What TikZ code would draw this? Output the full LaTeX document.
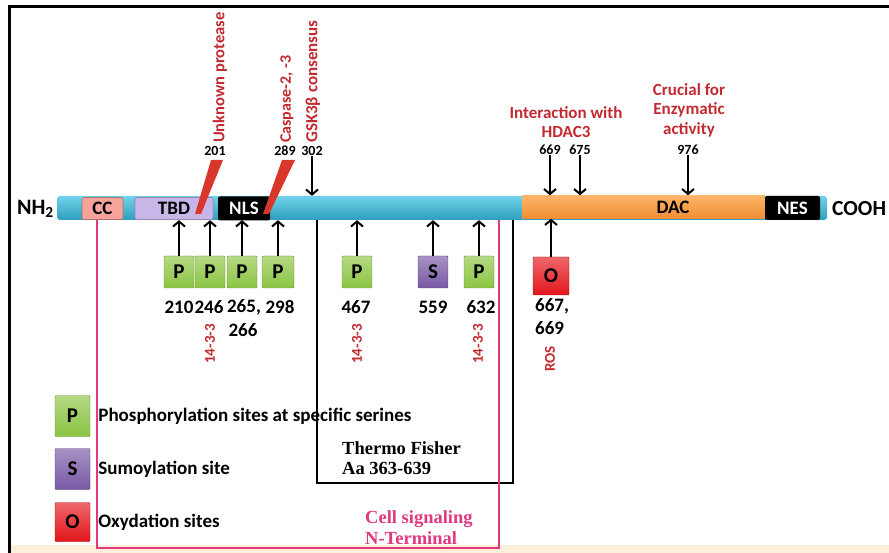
\documentclass[tikz,border=0pt]{standalone}
\usepackage{fontspec}
\setmainfont{Carlito}
\newfontfamily\thermofont{Liberation Serif}
\usetikzlibrary{positioning,arrows.meta}

\definecolor{barlight}{HTML}{72D2EA}
\definecolor{bardark}{HTML}{2C9FBE}
\definecolor{ccpink}{HTML}{F6A39C}
\definecolor{tbdlilac}{HTML}{C9B6E8}
\definecolor{daclight}{HTML}{FBB565}
\definecolor{dacdark}{HTML}{F28E35}
\definecolor{pgreen}{HTML}{8CC443}
\definecolor{spurple}{HTML}{7858A4}
\definecolor{ored}{HTML}{E3161B}
\definecolor{cutred}{HTML}{D8382C}
\definecolor{notered}{HTML}{C22A30}
\definecolor{cellpink}{HTML}{E0397F}
\definecolor{bandbeige}{HTML}{FBEFD9}

\tikzset{
  every node/.style={inner sep=0pt},
  domainbox/.style={rounded corners=2pt, minimum height=22pt, line width=0.6pt,
    font=\bfseries\fontsize{19pt}{19pt}\selectfont},
  darkdomain/.style={domainbox, fill=black, text=white, minimum height=24pt},
  sitebox/.style={draw=#1!75!black, top color=#1!65!white, bottom color=#1,
    minimum width=30pt, minimum height=32pt, rounded corners=1pt,
    font=\bfseries\fontsize{21pt}{21pt}\selectfont},
  sitenum/.style={font=\bfseries\fontsize{19pt}{22pt}\selectfont},
  toplbl/.style={font=\bfseries\fontsize{14pt}{14pt}\selectfont},
  cutlbl/.style={text=notered, rotate=90, anchor=west,
    font=\bfseries\fontsize{17pt}{17pt}\selectfont},
  notelbl/.style={text=notered, align=center,
    font=\bfseries\fontsize{17pt}{19.5pt}\selectfont},
  bindlbl/.style={text=notered, rotate=90,
    font=\bfseries\fontsize{15pt}{15pt}\selectfont},
  legtxt/.style={font=\bfseries\fontsize{19pt}{19pt}\selectfont},
  sitearrow/.style={line width=1.8pt, -{Straight Barb[length=5pt,width=12pt,line width=2pt]}}
}

\begin{document}
\begin{tikzpicture}[x=1pt,y=-1pt]
  \useasboundingbox (0,0) rectangle (889,553);

  % Frame and bottom band
  \fill[bandbeige] (10,545) rectangle (889,553);
  \draw[line width=2.2pt] (9.5,553) -- (9.5,6.5) -- (889,6.5);

  % Antibody regions
  \draw[line width=2pt] (317,220) -- (317,483) -- (513,483) -- (513,220);
  \draw[cellpink, line width=2pt] (97,219) -- (97,548) -- (499,548) -- (499,220);

  % Protein bar and domains
  \node[top color=barlight, bottom color=bardark, rounded corners=3pt,
    minimum width=770pt, minimum height=24pt] (bar) at (442,208) {};
  \node[font=\bfseries\fontsize{22pt}{22pt}\selectfont, anchor=east] (nh2) at (54,209) {NH\textsubscript{2}};
  \node[font=\bfseries\fontsize{21.5pt}{22pt}\selectfont, anchor=west] (cooh) at (832,209) {COOH};
  \node[domainbox, fill=ccpink, draw=ccpink!70!black, minimum width=41pt] (cc) at (102.5,208.5) {CC};
  \node[domainbox, fill=tbdlilac, draw=tbdlilac!75!black, minimum width=78pt] (tbd) at (174,208.5) {TBD};
  \node[darkdomain, minimum width=52pt] (nls) at (244,208.5) {NLS};
  \node[top color=daclight, bottom color=dacdark, minimum width=243pt,
    minimum height=23pt] (dac) at (643.5,207) {};
  \node[domainbox] (daclbl) at (673,207.5) {DAC};
  \node[darkdomain, minimum width=55pt] (nes) at (792.5,208) {NES};

  % Cleavage sites
  \fill[cutred] (195,214) -- (201,214) -- (223,160) -- (211,160) -- cycle;
  \fill[cutred] (263,214) -- (269,214) -- (295,160) -- (282,160) -- cycle;
  \node[toplbl] (n201) at (215,151) {201};
  \node[toplbl] (n289) at (285,151) {289};
  \node[toplbl] (n302) at (312,151) {302};
  \node[cutlbl, font=\bfseries\fontsize{16.5pt}{16.5pt}\selectfont] (unk) at (220,143) {Unknown protease};
  \node[cutlbl, font=\bfseries\fontsize{16pt}{16pt}\selectfont] (casp) at (287,143) {Caspase-2, -3};
  \node[cutlbl] (gsk) at (313,143) {GSK3β consensus};
  \draw[sitearrow] (n302.south) -- (n302.south |- bar.north);

  % Functional sites in DAC
  \node[notelbl] (hdac) at (566,122) {Interaction with\\HDAC3};
  \node[notelbl] (enz) at (689,110) {Crucial for\\Enzymatic\\activity};
  \node[toplbl] (n669) at (550,150) {669};
  \node[toplbl] (n675) at (580,150) {675};
  \node[toplbl] (n976) at (688,150) {976};
  \foreach \s in {n669,n675,n976}
    \draw[sitearrow] (\s.south) -- (\s.south |- dac.north);

  % Modification sites
  \node[sitebox=pgreen] (p210) at (179,272) {P};
  \node[sitebox=pgreen] (p246) at (210,272) {P};
  \node[sitebox=pgreen] (p265) at (242,272) {P};
  \node[sitebox=pgreen, minimum width=32pt] (p298) at (278,272) {P};
  \node[sitebox=pgreen] (p467) at (357,272) {P};
  \node[sitebox=spurple, text=black] (s559) at (433,272) {S};
  \node[sitebox=pgreen] (p632) at (479,272) {P};
  \node[sitebox=ored, minimum width=36pt, minimum height=38pt] (o667) at (551,276) {O};
  \foreach \s in {p210,p246,p265,p298,p467,s559,p632}
    \draw[sitearrow] (\s.north) -- (\s.north |- bar.south);
  \draw[sitearrow] (o667.north) -- (o667.north |- dac.south);

  \node[sitenum] (l210) at (179,307) {210};
  \node[sitenum] (l246) at (209,307) {246};
  \node[sitenum] (l265) at (244,307) {265,};
  \node[sitenum] (l298) at (280,307) {298};
  \node[sitenum] (l266) at (243,330) {266};
  \node[sitenum] (l467) at (356,307) {467};
  \node[sitenum] (l559) at (433,307) {559};
  \node[sitenum] (l632) at (481,307) {632};
  \node[sitenum, anchor=west] (l667) at (535,306) {667,};
  \node[sitenum, anchor=west] (l669) at (535,328) {669};

  \node[bindlbl] (b246) at (210,344) {14-3-3};
  \node[bindlbl] (b467) at (357,344) {14-3-3};
  \node[bindlbl] (b632) at (478,344) {14-3-3};
  \node[bindlbl] (ros) at (550,359) {ROS};

  % Antibody labels
  \node[anchor=west, align=left, font=\thermofont\bfseries\fontsize{18.5pt}{19.5pt}\selectfont]
    (thermo) at (342,458) {Thermo Fisher\\Aa 363-639};
  \node[anchor=west, align=left, text=cellpink, font=\thermofont\bfseries\fontsize{18.5pt}{21pt}\selectfont]
    (cellsig) at (365,527.5) {Cell signaling\\N-Terminal};

  % Legend
  \node[sitebox=pgreen, minimum width=35pt, minimum height=41pt] (legP) at (72.5,416) {P};
  \node[sitebox=spurple, minimum width=35pt, minimum height=41pt] (legS) at (72.5,469) {S};
  \node[sitebox=ored, minimum width=35pt, minimum height=39pt] (legO) at (72.5,522) {O};
  \node[legtxt, right=8pt of legP] (txtP) {Phosphorylation sites at specific serines};
  \node[legtxt, right=8pt of legS] (txtS) {Sumoylation site};
  \node[legtxt, right=8pt of legO] (txtO) {Oxydation sites};
\end{tikzpicture}
\end{document}
